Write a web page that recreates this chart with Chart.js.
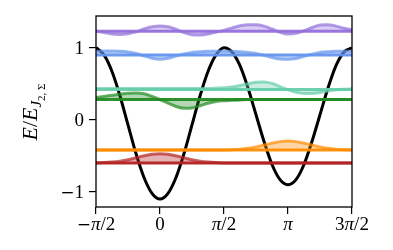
<!DOCTYPE html>
<html>
<head>
<meta charset="utf-8">
<script src="https://cdn.jsdelivr.net/npm/chart.js@4.4.1/dist/chart.umd.min.js"></script>
<style>
  html, body { margin: 0; padding: 0; background: #fff; }
  #wrap { width: 393px; height: 250px; }
</style>
</head>
<body>
<div id="wrap"><canvas id="chart" width="393" height="250"></canvas></div>
<script>
// sample positions, in units of pi
const xPi = [-0.5, -0.4375, -0.375, -0.3125, -0.25, -0.1875, -0.125, -0.0625, 0,
  0.0625, 0.125, 0.1875, 0.25, 0.3125, 0.375, 0.4375, 0.5, 0.5625, 0.625, 0.6875,
  0.75, 0.8125, 0.875, 0.9375, 1, 1.0625, 1.125, 1.1875, 1.25, 1.3125, 1.375, 1.4375, 1.5];

// potential (black curve)
const potential = [1.00, 0.90, 0.67, 0.33, -0.07, -0.47, -0.80, -1.02, -1.10,
  -1.02, -0.80, -0.47, -0.07, 0.33, 0.67, 0.90, 1.00, 0.94, 0.75, 0.44,
  0.07, -0.30, -0.62, -0.83, -0.90, -0.83, -0.62, -0.30, 0.07, 0.44, 0.75, 0.94, 1.00];

// energy levels and wavefunction offsets from each level
const levelNames = ['red', 'orange', 'green', 'teal', 'blue', 'purple'];
const levelEnergies = [-0.60, -0.42, 0.28, 0.42, 0.90, 1.23];
const levelColors = ['178,34,34', '255,140,0', '34,139,34', '102,205,170', '100,149,237', '147,112,219'];

const waveRed = [0.002, 0.006, 0.013, 0.026, 0.046, 0.073, 0.100, 0.122, 0.13,
  0.122, 0.100, 0.073, 0.046, 0.026, 0.013, 0.006, 0.002, 0, 0, 0,
  0, 0, 0, 0, 0, 0, 0, 0, 0, 0, 0, 0, 0];
const waveOrange = [0, 0, 0, 0, 0, 0, 0, 0, 0,
  0, 0, 0, 0, 0, 0, 0, 0.002, 0.006, 0.0125, 0.025,
  0.044, 0.070, 0.096, 0.117, 0.125, 0.117, 0.096, 0.070, 0.044, 0.025, 0.0125, 0.006, 0.002];
const waveGreen = [0.03, 0.045, 0.06, 0.075, 0.087, 0.09, 0.08, 0.045, 0.0,
  -0.05, -0.095, -0.12, -0.115, -0.085, -0.05, -0.025, -0.015, -0.01, -0.005, 0,
  0, 0, 0, 0, 0, 0, 0, 0, 0, 0, 0, 0, 0];
const waveTeal = [0.015, 0.015, 0.015, 0.015, 0.015, 0.015, 0.015, 0.015, 0.015,
  0.015, 0.015, 0.015, 0.015, 0.015, 0.015, 0.02, 0.025, 0.035, 0.055, 0.08,
  0.10, 0.105, 0.085, 0.04, -0.005, -0.04, -0.055, -0.055, -0.04, -0.02, -0.005, 0.005, 0.01];
const waveBlue = [0.05, 0.055, 0.055, 0.05, 0.04, 0.02, -0.015, -0.045, -0.06,
  -0.045, -0.015, 0.015, 0.035, 0.045, 0.05, 0.05, 0.05, 0.05, 0.045, 0.035,
  0.02, -0.005, -0.035, -0.055, -0.06, -0.05, -0.02, 0.01, 0.035, 0.045, 0.05, 0.05, 0.05];
const wavePurple = [0.0, -0.02, -0.04, -0.045, -0.035, -0.01, 0.03, 0.06, 0.07,
  0.06, 0.025, -0.02, -0.05, -0.055, -0.04, -0.015, 0.01, 0.045, 0.075, 0.09,
  0.09, 0.07, 0.03, -0.015, -0.04, -0.03, 0.005, 0.05, 0.085, 0.09, 0.07, 0.04, 0.02];
const waves = [waveRed, waveOrange, waveGreen, waveTeal, waveBlue, wavePurple];

// axis ticks
const xTickPi = [-0.5, 0, 0.5, 1, 1.5];
const xTickLabels = ['\u2212\u03c0/2', '0', '\u03c0/2', '\u03c0', '3\u03c0/2'];
const yTicks = [-1, 0, 1];
const yTickLabels = ['\u22121', '0', '1'];

const SERIF = '"Liberation Serif", "DejaVu Serif", serif';
const FS = 19;

function pts(vals, offset) {
  return vals.map((v, i) => ({ x: xPi[i] * Math.PI, y: v + (offset || 0) }));
}

const datasets = [];
levelEnergies.forEach((e, i) => {
  const c = levelColors[i];
  datasets.push({
    label: levelNames[i] + ' level',
    data: [{ x: -Math.PI / 2, y: e }, { x: 1.5 * Math.PI, y: e }],
    borderColor: 'rgba(' + c + ',0.95)',
    borderWidth: 3,
    pointRadius: 0,
    fill: false,
    order: 0
  });
  datasets.push({
    label: levelNames[i] + ' wave',
    data: pts(waves[i], e),
    borderColor: 'rgba(' + c + ',0.7)',
    backgroundColor: 'rgba(' + c + ',0.35)',
    borderWidth: 3,
    pointRadius: 0,
    cubicInterpolationMode: 'monotone',
    fill: { value: e },
    order: 0
  });
});
datasets.push({
  label: 'potential',
  data: pts(potential),
  borderColor: '#000',
  borderWidth: 3,
  pointRadius: 0,
  cubicInterpolationMode: 'monotone',
  fill: false,
  order: 1
});

// tick text: pi in italic, minus from DejaVu (wider, like TeX)
function charFont(ch) {
  if (ch === '\u03c0') return 'italic ' + FS + 'px ' + SERIF;
  if (ch === '\u2212') return (FS - 2) + 'px "DejaVu Serif", serif';
  return FS + 'px ' + SERIF;
}
function drawMath(ctx, str, x, y, align) {
  const chars = str.split('');
  let w = 0;
  const ws = chars.map(ch => { ctx.font = charFont(ch); const m = ctx.measureText(ch).width; w += m; return m; });
  let cx = align === 'right' ? x - w : x - w / 2;
  chars.forEach((ch, i) => { ctx.font = charFont(ch); ctx.fillText(ch, cx, y); cx += ws[i]; });
}

const textPlugin = {
  id: 'frameAndText',
  afterDatasetsDraw(chart) {
    const a = chart.chartArea;
    const ctx = chart.ctx;
    ctx.save();
    ctx.strokeStyle = '#000';
    ctx.lineWidth = 1.3;
    ctx.strokeRect(a.left, a.top, a.right - a.left, a.bottom - a.top);
    ctx.restore();
  },
  afterDraw(chart) {
    const ctx = chart.ctx;
    const xs = chart.scales.x, ys = chart.scales.y;
    ctx.save();
    ctx.fillStyle = '#000';
    ctx.textBaseline = 'alphabetic';
    xTickPi.forEach((v, i) => drawMath(ctx, xTickLabels[i], xs.getPixelForValue(v * Math.PI), 230, 'center'));
    yTicks.forEach((v, i) => drawMath(ctx, yTickLabels[i], 84, ys.getPixelForValue(v) + 6.5, 'right'));
    ctx.restore();

    const parts = [
      { t: 'E', f: 'italic 22px ' + SERIF, dy: 0 },
      { t: '/', f: '22px ' + SERIF, dy: 0 },
      { t: 'E', f: 'italic 22px ' + SERIF, dy: 0 },
      { t: 'J', f: 'italic 15px ' + SERIF, dy: 4 },
      { t: '2, \u03a3', f: '11px ' + SERIF, dy: 8 }
    ];
    ctx.save();
    ctx.translate(29, 112);
    ctx.rotate(-Math.PI / 2);
    ctx.fillStyle = '#000';
    ctx.textBaseline = 'alphabetic';
    let total = 0;
    parts.forEach(p => { ctx.font = p.f; p.w = ctx.measureText(p.t).width; total += p.w; });
    let x = -total / 2;
    parts.forEach(p => {
      ctx.font = p.f;
      ctx.fillText(p.t, x, 8 + p.dy);
      x += p.w;
    });
    ctx.restore();
  }
};

new Chart(document.getElementById('chart'), {
  type: 'line',
  data: { datasets: datasets },
  options: {
    responsive: false,
    animation: false,
    layout: { padding: { left: 0, right: 41, top: 16, bottom: 0 } },
    plugins: { legend: { display: false }, tooltip: { enabled: false } },
    scales: {
      x: {
        type: 'linear',
        min: -Math.PI / 2,
        max: 1.5 * Math.PI,
        afterBuildTicks: s => { s.ticks = xTickPi.map(v => ({ value: v * Math.PI })); },
        afterFit: s => { s.height = 43; },
        border: { display: false },
        grid: { drawOnChartArea: false, drawTicks: true, tickLength: 7, color: '#000', lineWidth: 1.2 },
        ticks: { autoSkip: false, maxRotation: 0, callback: () => '' }
      },
      y: {
        type: 'linear',
        min: -1.21,
        max: 1.44,
        afterBuildTicks: s => { s.ticks = yTicks.map(v => ({ value: v })); },
        afterFit: s => { s.width = 96; },
        border: { display: false },
        grid: { drawOnChartArea: false, drawTicks: true, tickLength: 7, color: '#000', lineWidth: 1.2 },
        ticks: { autoSkip: false, callback: () => '' }
      }
    }
  },
  plugins: [textPlugin]
});
</script>
</body>
</html>
